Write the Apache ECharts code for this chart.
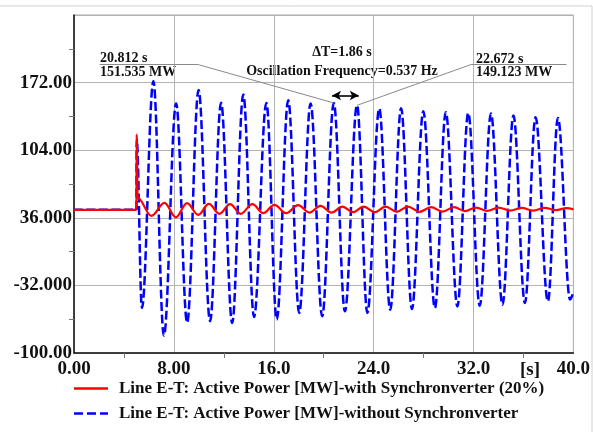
<!DOCTYPE html>
<html>
<head>
<meta charset="utf-8">
<script src="https://cdn.jsdelivr.net/npm/echarts@6.0.0/dist/echarts.min.js"></script>
<style>
  html, body { margin: 0; padding: 0; background: #fff; }
  #chart { width: 593px; height: 432px; }
</style>
</head>
<body>
<div id="chart"></div>
<script>
const redTime = [0, 5.0, 5.02, 5.1, 6.2, 7.25, 8.15, 9.05, 9.95, 10.8, 11.65, 12.5, 13.35, 14.3, 15.15, 16.05, 16.98, 17.95, 18.85, 19.75, 20.62, 21.5, 22.35, 23.2, 24.1, 24.95, 25.85, 26.75, 27.67, 28.6, 29.52, 30.44, 31.31, 32.21, 33.1, 34.0, 34.93, 35.86, 36.77, 37.7, 38.6, 39.45, 40];
const redPower = [44, 44, 120, 56, 38, 51, 36.5, 50.8, 39, 50, 40, 49.8, 40, 49.8, 40.7, 49, 40.7, 48.7, 41.3, 48, 41.3, 47.3, 41.7, 47.3, 41.7, 47.3, 42, 47.3, 42, 46.7, 42.3, 46.7, 42.7, 46.3, 43, 46.3, 43.3, 46, 43.3, 46, 43.7, 45.7, 44.5];

const blueTime = [0, 5.0, 5.02, 5.44, 6.36, 7.2, 8.18, 9.06, 9.98, 10.9, 11.78, 12.67, 13.56, 14.42, 15.41, 16.24, 17.16, 18.04, 18.95, 19.88, 20.81, 21.7, 22.67, 23.5, 24.45, 25.33, 26.2, 27.07, 27.98, 28.91, 29.78, 30.71, 31.58, 32.5, 33.4, 34.32, 35.2, 36.12, 36.97, 37.96, 38.76, 39.74, 40];
const bluePower = [44, 44, 115, -54.7, 173.3, -82.5, 151, -69.5, 164.6, -68, 151.8, -69.8, 160, -63.7, 151.6, -66.4, 154.2, -59.7, 150.9, -63.1, 151.535, -58.1, 149.123, -59.7, 145.9, -56.4, 146.1, -55.7, 143.2, -54.7, 142.2, -53.1, 141.5, -52.4, 140.8, -51.4, 138.8, -49.7, 137.1, -48.1, 136.5, -46.3, -38];

const xTickLabels = { 0: '0.00', 8: '8.00', 16: '16.0', 24: '24.0', 32: '32.0', 40: '40.0' };
const yTickLabels = { '-100': '-100.00', '-32': '-32.000', '36': '36.000', '104': '104.00', '172': '172.00' };

const redName = 'Line E-T: Active Power [MW]-with Synchronverter (20%)';
const blueName = 'Line E-T: Active Power [MW]-without Synchronverter';

const serif = '"Liberation Serif", "Times New Roman", serif';

function pairs(xs, ys) {
  return xs.map((x, i) => [x, ys[i]]);
}

// one legend per row, icons are plain strokes like the original plot key
function legendRow(name, icon, top) {
  return {
    data: [{ name: name, icon: icon }],
    left: 69,
    top: top,
    itemWidth: 34,
    itemHeight: 2.5,
    textStyle: { fontFamily: serif, fontWeight: 'bold', fontSize: 17, color: '#111', padding: [0, 0, 0, 6] }
  };
}

const chart = echarts.init(document.getElementById('chart'), null, { renderer: 'canvas' });

const option = {
  backgroundColor: '#fff',
  animation: false,
  grid: {
    left: 74, right: 15, top: 15, bottom: 79,
    show: true, borderColor: '#a8a8a8', borderWidth: 1
  },
  legend: [
    legendRow(redName, 'path://M0,0H34V2.5H0Z', 375),
    legendRow(blueName, 'path://M0,0H9V2.5H0ZM13,0H22V2.5H13ZM26,0H34V2.5H26Z', 400)
  ],
  xAxis: {
    type: 'value',
    min: 0, max: 40, interval: 8,
    axisLine: { onZero: false, lineStyle: { color: '#111', width: 1.5 } },
    axisTick: { show: false },
    minorTick: { show: true, splitNumber: 2, length: 5, lineStyle: { color: '#777' } },
    splitLine: { show: true, lineStyle: { color: '#b4b4b4', width: 1 } },
    axisLabel: {
      margin: 7,
      fontFamily: serif, fontWeight: 'bold', fontSize: 19, color: '#111',
      formatter: v => xTickLabels[v] || ''
    }
  },
  yAxis: {
    type: 'value',
    min: -100, max: 240, interval: 68,
    axisLine: { show: true, onZero: false, lineStyle: { color: '#111', width: 1.5 } },
    axisTick: { show: false },
    minorTick: { show: true, splitNumber: 2, length: 5, lineStyle: { color: '#777' } },
    splitLine: { show: true, lineStyle: { color: '#b4b4b4', width: 1 } },
    axisLabel: {
      margin: 2,
      fontFamily: serif, fontWeight: 'bold', fontSize: 19, color: '#111',
      formatter: v => yTickLabels[String(v)] || ''
    }
  },
  series: [
    {
      name: redName,
      type: 'line',
      data: pairs(redTime, redPower),
      symbol: 'none',
      smooth: 0.37,
      smoothMonotone: 'x',
      z: 3,
      lineStyle: { color: '#ff0000', width: 2.2 },
      itemStyle: { color: '#ff0000' }
    },
    {
      name: blueName,
      type: 'line',
      data: pairs(blueTime, bluePower),
      symbol: 'none',
      smooth: 0.37,
      smoothMonotone: 'x',
      z: 2,
      lineStyle: { color: '#0000ff', width: 2.5, type: [9, 3.5] },
      itemStyle: { color: '#0000ff' }
    },
    {
      // leader lines and the period arrow
      name: 'notes',
      type: 'line',
      data: [],
      silent: true,
      markLine: {
        silent: true,
        symbol: 'none',
        label: { show: false },
        emphasis: { disabled: true },
        lineStyle: { color: '#8a8a8a', width: 1, type: 'solid' },
        data: [
          [{ coord: [2.06, 190] }, { coord: [9.98, 190] }],
          [{ coord: [9.98, 190] }, { coord: [20.81, 151.535] }],
          [{ coord: [31.76, 190] }, { coord: [39.45, 190] }],
          [{ coord: [31.76, 190] }, { coord: [22.67, 149.123] }],
          [
            { coord: [20.67, 159], symbol: 'arrow', symbolSize: [7, 9], lineStyle: { color: '#000', width: 1.6 } },
            { coord: [22.81, 159], symbol: 'arrow', symbolSize: [7, 9] }
          ]
        ]
      }
    }
  ],
  graphic: [
    { type: 'rect', shape: { x: -2, y: 6, width: 594, height: 440 }, style: { fill: 'none', stroke: '#d0d0d0', lineWidth: 1 }, silent: true },
    { type: 'text', left: 100, top: 51, style: { text: '20.812 s', font: 'bold 14px ' + serif, fill: '#111' } },
    { type: 'text', left: 100, top: 65, style: { text: '151.535 MW', font: 'bold 14px ' + serif, fill: '#111' } },
    { type: 'text', left: 476, top: 52, style: { text: '22.672 s', font: 'bold 14px ' + serif, fill: '#111' } },
    { type: 'text', left: 476, top: 65, style: { text: '149.123 MW', font: 'bold 14px ' + serif, fill: '#111' } },
    { type: 'text', x: 342, y: 52, style: { text: 'ΔT=1.86 s', font: 'bold 14px ' + serif, fill: '#111', textAlign: 'center', textVerticalAlign: 'middle' } },
    { type: 'text', x: 342, y: 71, style: { text: 'Oscillation Frequency=0.537 Hz', font: 'bold 14px ' + serif, fill: '#111', textAlign: 'center', textVerticalAlign: 'middle' } },
    { type: 'text', x: 530, y: 370, style: { text: '[s]', font: 'bold 19px ' + serif, fill: '#111', textAlign: 'center', textVerticalAlign: 'middle' } }
  ]
};

chart.setOption(option);
</script>
</body>
</html>
